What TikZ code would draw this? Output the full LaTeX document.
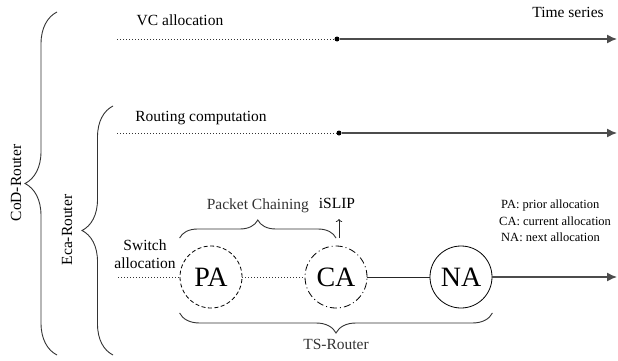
\documentclass[tikz,border=0pt]{standalone}
\usepackage{fontspec}
\setmainfont{Liberation Serif}
\usetikzlibrary{arrows.meta,decorations.pathreplacing}
\begin{document}
\begin{tikzpicture}[x=1pt,y=1pt,font=\fontsize{15.5}{18}\selectfont]
        % Styles
        \tikzstyle{time line}=[line width=1.4pt,black!70,-{Latex[length=10pt,width=9pt]}]
        \tikzstyle{dot line}=[line width=1pt,black!80,dash pattern=on 1pt off 2pt]
        \tikzstyle{plain line}=[line width=0.8pt,black!85]
        \tikzstyle{junction}=[circle,fill=black,inner sep=0pt,minimum size=5pt]
        \tikzstyle{alloc}=[circle,draw,line width=0.8pt,inner sep=0pt,minimum size=62pt,font=\fontsize{28}{30}\selectfont]
        \tikzstyle{bracket}=[line width=0.9pt,black!80,decorate]
        \tikzstyle{legend text}=[font=\fontsize{12.5}{16}\selectfont,align=left,anchor=west,inner sep=0pt]
        \useasboundingbox (0,0) rectangle (618,360);
        %The graphic
        %VC allocation
        \node (vctext) at (180,340) {VC allocation};
        \node (timetext) at (568,348) {Time series};
        \coordinate (vcstart) at (117,321);
        \node[junction] (vcdot) at (337,321) {};
        \coordinate (vcend) at (617,321);
        \draw[dot line] (vcstart) -- (vcdot);
        \draw[time line] (vcdot) -- (vcend);
        %Routing computation
        \node (rctext) at (201,242) {Routing computation};
        \coordinate (rcstart) at (117,227);
        \node[junction] (rcdot) at (339,227) {};
        \coordinate (rcend) at (617,227);
        \draw[dot line] (rcstart) -- (rcdot);
        \draw[time line] (rcdot) -- (rcend);
        %Switch allocation
        \node[align=center] (satext) at (145,106) {Switch\\allocation};
        \coordinate (sastart) at (118,83);
        \node[alloc,dash pattern=on 4pt off 2.5pt] (pa) at (211,83) {PA};
        \node[alloc,dash pattern=on 7pt off 3pt on 1pt off 3pt] (ca) at (336,83) {CA};
        \node[alloc] (na) at (461,83) {NA};
        \coordinate (saend) at (617,83);
        \draw[dot line] (sastart) -- (pa);
        \draw[dot line] (pa) -- (ca);
        \draw[plain line] (ca) -- (na);
        \draw[time line] (na) -- (saend);
        %braces
        \draw[bracket,decoration={brace,amplitude=18pt}] ([yshift=39pt]pa.west) -- ([yshift=39pt]ca.center)
            node[midway,above=21pt] (pctext) {Packet Chaining};
        \draw[bracket,decoration={brace,amplitude=20pt}] ([yshift=-36pt]na.east) -- ([yshift=-36pt]pa.west)
            node[midway,below=22pt] (tstext) {TS-Router};
        \draw[bracket,decoration={brace,amplitude=32pt}] (57,5) -- (57,348);
        \draw[bracket,decoration={brace,amplitude=31pt}] (113,5) -- (113,254);
        \node[rotate=90] (codtext) at (16,177) {CoD-Router};
        \node[rotate=90] (ecatext) at (67,130) {Eca-Router};
        %iSLIP
        \node (sliptext) at (337,157) {iSLIP};
        \coordinate (slipfoot) at (339,122);
        \coordinate (sliptop) at (339,141);
        \draw[plain line,-{To[length=3pt]}] (slipfoot) -- (sliptop);
        %legend
        \node[legend text] (leg1) at (501,155) {PA: prior allocation};
        \node[legend text] (leg2) at (499,139) {CA: current allocation};
        \node[legend text] (leg3) at (501,123) {NA: next allocation};
\end{tikzpicture}
\end{document}
